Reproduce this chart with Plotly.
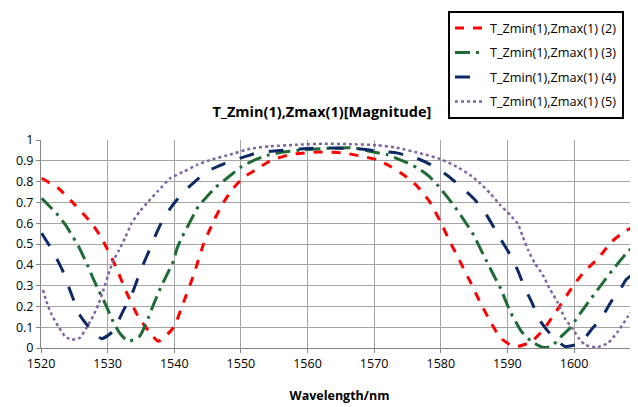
import plotly.graph_objects as go

# Wavelength (nm) sample points and read-off magnitudes per series
x_s2 = [1520.1, 1522.6, 1525.1, 1527.6, 1529.1, 1531.1, 1532.8, 1534.6, 1536.6, 1537.6, 1539.4, 1540.1,
        1541.4, 1542.9, 1544.4, 1545.9, 1547.4, 1548.9, 1550.4, 1552.4, 1554.4, 1557.4, 1561.4, 1565.4,
        1568.4, 1570.4, 1572.4, 1574.4, 1576.4, 1578.4, 1579.9, 1581.4, 1582.9, 1584.4, 1585.9, 1587.4,
        1588.9, 1590.4, 1591.6, 1593.6, 1595.6, 1597.6, 1599.9, 1601.6, 1603.6, 1605.6, 1607.6, 1609.6]
y_s2 = [0.816, 0.768, 0.688, 0.60, 0.528, 0.40, 0.27, 0.15, 0.064, 0.032, 0.08, 0.11,
        0.22, 0.35, 0.50, 0.61, 0.70, 0.77, 0.82, 0.86, 0.90, 0.93, 0.942, 0.938,
        0.92, 0.905, 0.874, 0.833, 0.78, 0.70, 0.61, 0.51, 0.415, 0.32, 0.22, 0.13,
        0.05, 0.016, 0.008, 0.03, 0.096, 0.19, 0.30, 0.37, 0.43, 0.51, 0.56, 0.595]

x_s3 = [1520.1, 1522.3, 1523.6, 1524.6, 1525.6, 1527.1, 1527.8, 1528.6, 1529.6, 1530.8, 1531.8, 1533.1,
        1534.8, 1536.1, 1536.9, 1537.6, 1538.4, 1539.9, 1540.4, 1541.2, 1542.1, 1543.6, 1544.9, 1546.2,
        1547.9, 1550.1, 1552.1, 1553.9, 1556.4, 1559.4, 1563.0, 1566.9, 1569.9, 1571.9, 1574.4, 1576.6,
        1578.3, 1579.6, 1581.9, 1583.9, 1584.9, 1586.4, 1588.1, 1589.0, 1590.4, 1592.1, 1593.6, 1595.3,
        1596.6, 1597.9, 1599.4, 1600.5, 1602.6, 1604.7, 1605.9, 1608.1, 1609.6]
y_s3 = [0.72, 0.648, 0.595, 0.544, 0.49, 0.39, 0.336, 0.28, 0.216, 0.128, 0.072, 0.032,
        0.056, 0.144, 0.21, 0.264, 0.32, 0.42, 0.477, 0.535, 0.59, 0.68, 0.728, 0.773,
        0.816, 0.872, 0.904, 0.926, 0.942, 0.953, 0.96, 0.962, 0.942, 0.93, 0.898, 0.864,
        0.824, 0.78, 0.688, 0.595, 0.544, 0.448, 0.34, 0.285, 0.176, 0.08, 0.032, 0.003,
        0.008, 0.05, 0.096, 0.147, 0.24, 0.33, 0.38, 0.464, 0.506]

x_s4 = [1520.1, 1521.8, 1523.3, 1524.6, 1525.8, 1527.3, 1529.1, 1530.8, 1532.3, 1533.6, 1535.1, 1536.4,
        1537.3, 1538.4, 1539.6, 1541.4, 1543.1, 1544.9, 1547.6, 1550.6, 1552.4, 1555.4, 1559.4, 1563.4,
        1567.4, 1570.4, 1573.4, 1575.4, 1576.4, 1578.4, 1580.9, 1582.6, 1584.9, 1586.4, 1588.9, 1590.4,
        1591.6, 1592.6, 1593.6, 1594.8, 1596.1, 1597.3, 1598.6, 1600.3, 1601.6, 1602.8, 1604.1, 1605.6,
        1606.9, 1607.8, 1609.6]
y_s4 = [0.552, 0.464, 0.368, 0.256, 0.16, 0.096, 0.045, 0.08, 0.176, 0.256, 0.384, 0.48,
        0.55, 0.624, 0.68, 0.75, 0.80, 0.848, 0.888, 0.92, 0.938, 0.948, 0.958, 0.962,
        0.958, 0.948, 0.938, 0.92, 0.912, 0.883, 0.832, 0.787, 0.72, 0.664, 0.528, 0.448,
        0.37, 0.288, 0.224, 0.136, 0.08, 0.04, 0.008, 0.016, 0.048, 0.096, 0.144, 0.224,
        0.28, 0.328, 0.375]

x_s5 = [1520.3, 1520.8, 1521.6, 1522.6, 1523.6, 1524.6, 1525.8, 1526.8, 1527.8, 1528.6, 1529.3, 1530.1,
        1530.8, 1531.6, 1532.6, 1533.6, 1534.8, 1536.1, 1537.6, 1539.4, 1541.4, 1543.4, 1545.4, 1548.4,
        1551.4, 1554.4, 1558.4, 1562.4, 1566.4, 1570.4, 1573.4, 1576.9, 1579.9, 1582.4, 1584.4, 1585.9,
        1587.4, 1588.9, 1590.4, 1591.6, 1592.3, 1593.1, 1594.1, 1595.3, 1596.3, 1597.6, 1598.6, 1599.9,
        1600.7, 1601.6, 1603.4, 1605.1, 1606.6, 1608.1, 1609.6]
y_s5 = [0.28, 0.224, 0.16, 0.104, 0.056, 0.04, 0.048, 0.096, 0.152, 0.208, 0.272, 0.352,
        0.416, 0.464, 0.528, 0.60, 0.656, 0.704, 0.756, 0.816, 0.848, 0.88, 0.904, 0.93,
        0.958, 0.97, 0.977, 0.982, 0.98, 0.975, 0.963, 0.936, 0.909, 0.872, 0.832, 0.792,
        0.744, 0.688, 0.64, 0.595, 0.536, 0.472, 0.408, 0.352, 0.288, 0.216, 0.144, 0.088,
        0.048, 0.016, 0.003, 0.024, 0.08, 0.152, 0.215]

names = ["T_Zmin(1),Zmax(1) (2)", "T_Zmin(1),Zmax(1) (3)", "T_Zmin(1),Zmax(1) (4)", "T_Zmin(1),Zmax(1) (5)"]
x_ticks = [1520, 1530, 1540, 1550, 1560, 1570, 1580, 1590, 1600]

series = [(x_s2, y_s2), (x_s3, y_s3), (x_s4, y_s4), (x_s5, y_s5)]
colors = ["#FF0000", "#1E6B35", "#0D2A66", "#8064A2"]
dashes = ["dash", "longdashdot", "longdash", "dot"]
widths = [3, 3, 3, 2.5]

# the page body adds an 8px offset; the figure is sized to fit the window
OFF = 8
W, H = 638 - OFF, 407 - OFF

fig = go.Figure()
for i, (xs, ys) in enumerate(series):
    fig.add_trace(go.Scatter(
        x=xs, y=ys, mode="lines", name=names[i], legendgroup=f"g{i}",
        line=dict(color=colors[i], dash=dashes[i], width=widths[i], shape="spline", smoothing=0.5),
    ))

fig.update_layout(
    width=W, height=H,
    margin=dict(l=41 - OFF, r=0, t=140 - OFF, b=H - (348.3 - OFF), autoexpand=False),
    paper_bgcolor="white", plot_bgcolor="white",
    font=dict(family="Open Sans", size=12, color="black"),
    title=dict(text="<b>T_Zmin(1),Zmax(1)[Magnitude]</b>", x=(322 - OFF) / W, xanchor="center",
               y=1 - (112 - OFF) / H, yanchor="middle", font=dict(size=14.5)),
    showlegend=True,
    legend=dict(
        x=(448 - 41) / 597, y=(348.3 - 11) / 208.3, xanchor="left", yanchor="top",
        bordercolor="black", borderwidth=2, bgcolor="white",
        font=dict(size=12.7), tracegroupgap=5, traceorder="grouped",
    ),
    xaxis=dict(
        range=[1520, 1609.6], tickvals=x_ticks, showgrid=True, gridcolor="#A6A6A6", gridwidth=1,
        showline=True, linecolor="#868686", linewidth=1, ticks="outside", ticklen=4,
        tickcolor="#868686", zeroline=False,
        title=dict(text="<b>Wavelength/nm</b>", font=dict(size=12.5), standoff=20),
        tickfont=dict(size=12.5),
    ),
    yaxis=dict(
        range=[0, 1], dtick=0.1, showgrid=True, gridcolor="#A6A6A6", gridwidth=1,
        showline=True, linecolor="#868686", linewidth=1, ticks="outside", ticklen=4,
        tickcolor="#868686", zeroline=False,
        tickfont=dict(size=12.5), tickformat="~g",
    ),
)

fig.write_html("out.html")
